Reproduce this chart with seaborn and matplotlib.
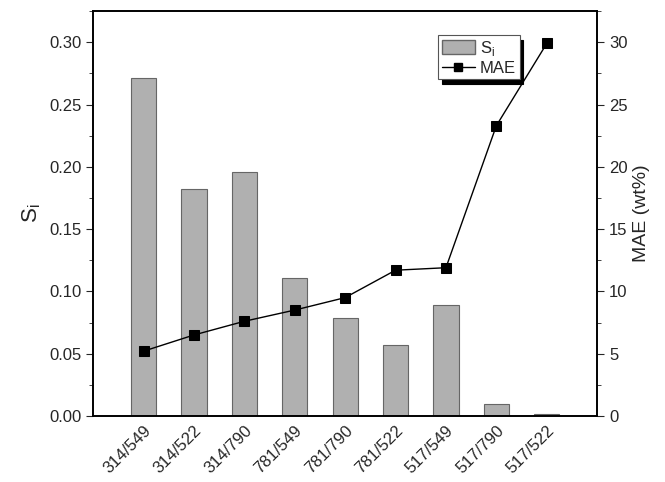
import matplotlib
matplotlib.use('Agg')
import matplotlib.pyplot as plt
import seaborn as sns
import numpy as np
import pandas as pd
from matplotlib.ticker import MultipleLocator
from matplotlib.patches import Patch
from matplotlib.lines import Line2D

# data
pairs = ['314/549', '314/522', '314/790', '781/549', '781/790',
         '781/522', '517/549', '517/790', '517/522']
si = [0.271, 0.182, 0.196, 0.111, 0.079, 0.057, 0.089, 0.010, 0.0015]
mae = [5.2, 6.5, 7.6, 8.5, 9.5, 11.7, 11.9, 23.3, 29.9]

df = pd.DataFrame({'pair': pairs, 'si': si, 'mae': mae})
df['pos'] = np.arange(len(pairs))

sns.set_style('ticks')
plt.rcParams['font.family'] = ['Liberation Sans', 'DejaVu Sans']

fig = plt.figure(figsize=(6.65, 4.82), dpi=100)
ax = fig.add_axes([0.14, 0.137, 0.758, 0.84])

sns.barplot(data=df, x='pair', y='si', color='#b0b0b0', saturation=1,
            width=0.5, edgecolor='#666666', linewidth=0.8, ax=ax)
ax.set_xlim(-1, 9)
ax.set_ylim(0, 0.325)
ax.yaxis.set_minor_locator(MultipleLocator(0.025))
ax.set_yticks(np.arange(0, 0.31, 0.05))
ax.set_yticklabels(['%.2f' % v for v in np.arange(0, 0.31, 0.05)])
ax.set_xlabel('')
ax.set_ylabel('S$_\\mathregular{i}$', fontsize=16)
ax.tick_params(axis='y', which='major', direction='out', length=5, labelsize=12)
ax.tick_params(axis='y', which='minor', direction='out', length=3)
ax.tick_params(axis='x', length=0, labelsize=12, pad=5)
plt.setp(ax.get_xticklabels(), rotation=45, ha='right', rotation_mode='anchor')

ax2 = ax.twinx()
sns.lineplot(data=df, x='pos', y='mae', color='black', marker='s',
             markersize=6.5, markeredgecolor='black', linewidth=1, ax=ax2)
ax2.set_xlim(-1, 9)
ax2.set_ylim(0, 32.5)
ax2.yaxis.set_major_locator(MultipleLocator(5))
ax2.yaxis.set_minor_locator(MultipleLocator(2.5))
ax2.set_ylabel('MAE (wt%)', fontsize=14)
ax2.tick_params(axis='y', which='major', direction='out', length=5, labelsize=12)
ax2.tick_params(axis='y', which='minor', direction='out', length=3)

for a in (ax, ax2):
    for s in a.spines.values():
        s.set_visible(True)
        s.set_linewidth(1.2)
        s.set_color('black')

handles = [Patch(facecolor='#b0b0b0', edgecolor='#666666', label='S$_\\mathregular{i}$'),
           Line2D([], [], color='black', marker='s', markersize=6, lw=1, label='MAE')]
leg = ax.legend(handles=handles, loc='upper left', bbox_to_anchor=(0.685, 0.94),
                fontsize=12, frameon=True, fancybox=False,
                shadow={'color': 'black', 'alpha': 1, 'ox': 2.5, 'oy': -3.5},
                edgecolor='#555555', handlelength=2.0, handleheight=0.9,
                handletextpad=0.3, borderpad=0.2, labelspacing=0.15, borderaxespad=0)
leg.get_frame().set_linewidth(0.8)

fig.savefig('out.png', dpi=100)
